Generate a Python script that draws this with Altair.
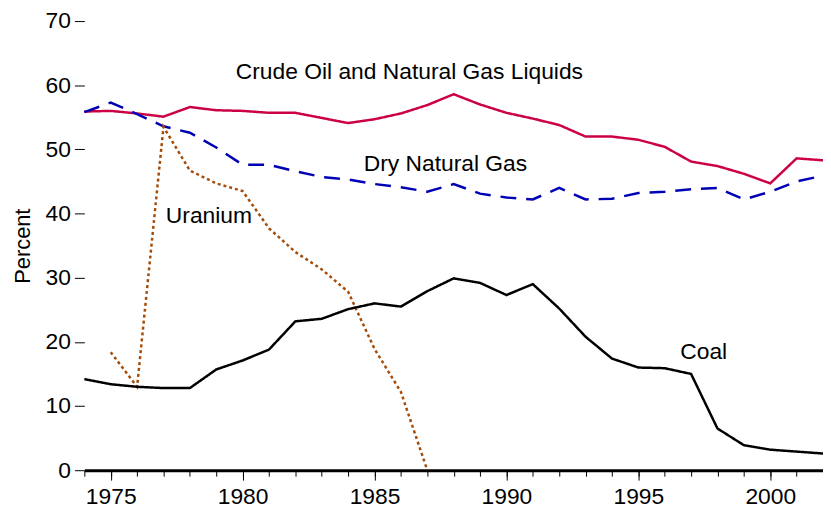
import altair as alt
import pandas as pd

years = list(range(1974, 2003))

crude_oil = [55.9, 56.0, 55.6, 55.1, 56.6, 56.1, 56.0, 55.7, 55.7, 54.9, 54.1, 54.7, 55.6,
             56.9, 58.6, 57.0, 55.7, 54.8, 53.8, 52.0, 52.0, 51.5, 50.4, 48.1, 47.4, 46.2,
             44.7, 48.6, 48.3]
dry_gas = [55.8, 57.3, 55.5, 53.6, 52.6, 50.3, 47.6, 47.6, 46.6, 45.7, 45.3, 44.6, 44.1,
           43.4, 44.6, 43.1, 42.5, 42.2, 44.0, 42.2, 42.3, 43.2, 43.4, 43.8, 44.0, 42.2,
           43.4, 45.0, 45.9]
coal = [14.2, 13.4, 13.0, 12.8, 12.8, 15.7, 17.1, 18.8, 23.2, 23.6, 25.1, 26.0, 25.5,
        27.9, 29.9, 29.2, 27.3, 29.0, 25.2, 20.8, 17.4, 16.0, 15.9, 15.0, 6.5, 3.9,
        3.2, 2.9, 2.6]
uranium_years = list(range(1975, 1988))
uranium = [18.4, 13.0, 53.5, 46.7, 44.7, 43.5, 37.7, 34.0, 31.3, 27.8, 18.9, 12.2, 0.0]

series_names = ["Crude Oil and Natural Gas Liquids", "Dry Natural Gas", "Uranium", "Coal"]
series_colors = ["#CC0044", "#0000B4", "#A34C0A", "#000000"]
series_dash = [[1, 0], [16, 10], [3, 3], [1, 0]]

label_text = ["Crude Oil and Natural Gas Liquids", "Dry Natural Gas", "Uranium", "Coal"]
label_x = [1979.74, 1984.59, 1977.09, 1996.59]
label_y = [61.0, 46.6, 38.6, 17.3]

rows = []
for name, xs, vals in [
    (series_names[0], years, crude_oil),
    (series_names[1], years, dry_gas),
    (series_names[2], uranium_years, uranium),
    (series_names[3], years, coal),
]:
    for x, v in zip(xs, vals):
        rows.append({"year": x, "value": v, "series": name})
df = pd.DataFrame(rows)
labels = pd.DataFrame({"text": label_text, "year": label_x, "value": label_y})

FONT = "Liberation Sans"
FS = 23
xscale = alt.Scale(domain=[1974, 2002], nice=False, zero=False)
yscale = alt.Scale(domain=[0, 70], nice=False)

axis_minor = alt.Axis(values=years, tickSize=6, tickColor="#000000", tickWidth=1,
                      labels=False, domain=True, domainColor="#000000", domainWidth=3,
                      grid=False, title=None, orient="bottom")
axis_major = alt.Axis(values=[1975, 1980, 1985, 1990, 1995, 2000], tickSize=10,
                      tickColor="#000000", tickWidth=1, format="d", labelFontSize=FS,
                      labelFont=FONT, labelColor="#000000", labelPadding=6,
                      domain=False, grid=False, title=None, orient="bottom")
yaxis = alt.Axis(values=[0, 10, 20, 30, 40, 50, 60, 70], tickSize=10, tickColor="#000000",
                 tickWidth=1, domain=False, grid=False, labelFontSize=FS, labelFont=FONT,
                 labelColor="#000000", labelPadding=4, title="Percent", titleFontSize=22,
                 titleFont=FONT, titleFontWeight="normal", titleColor="#000000",
                 titlePadding=11)

lines = alt.Chart(df).mark_line(strokeWidth=2.5).encode(
    x=alt.X("year:Q", scale=xscale, axis=axis_minor),
    y=alt.Y("value:Q", scale=yscale, axis=yaxis),
    color=alt.Color("series:N", scale=alt.Scale(domain=series_names, range=series_colors), legend=None),
    strokeDash=alt.StrokeDash("series:N", scale=alt.Scale(domain=series_names, range=series_dash), legend=None),
    detail="series:N",
)

text = alt.Chart(labels).mark_text(align="left", baseline="alphabetic", fontSize=FS,
                                   font=FONT, color="#000000").encode(
    x=alt.X("year:Q", scale=xscale, axis=axis_major),
    y=alt.Y("value:Q", scale=yscale),
    text="text:N",
)

chart = alt.layer(lines, text).resolve_axis(x="independent").properties(
    width=745, height=453,
    autosize=alt.AutoSizeParams(type="none"),
    padding={"left": 77, "top": 11, "right": 0, "bottom": 42},
).configure_view(stroke=None)

chart.save("out.html", embed_options={"renderer": "svg", "actions": False})
